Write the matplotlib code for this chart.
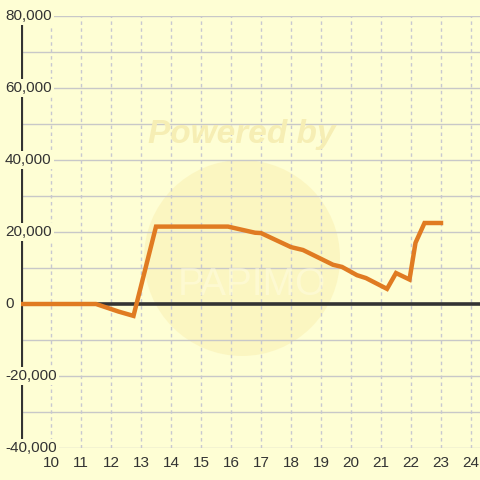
import matplotlib
matplotlib.use("Agg")
import matplotlib.pyplot as plt
from matplotlib.patches import Circle
from matplotlib import transforms

plt.rcParams['font.family'] = ['Liberation Sans', 'DejaVu Sans']
plt.rcParams['lines.scale_dashes'] = False

# Data
x_vals = [9, 11.5, 12.25, 12.75, 13.5, 15.9, 16.8, 17.0, 18.0, 18.4, 19.4, 19.7,
          20.2, 20.5, 21.2, 21.5, 21.95, 22.15, 22.45, 23.0]
y_vals = [0, 0, -2100, -3300, 21500, 21500, 19800, 19700, 15800, 15000, 10900, 10300,
          8000, 7200, 4200, 8600, 6800, 17000, 22500, 22500]
x_ticks = list(range(10, 25))
y_ticks = [-40000, -20000, 0, 20000, 40000, 60000, 80000]
y_grid = list(range(-40000, 80001, 10000))

BG = '#FEFED4'
TXT = '#333333'

fig = plt.figure(figsize=(4.8, 4.8), dpi=100)
fig.patch.set_facecolor(BG)
W = H = 480.0
ax = fig.add_axes([21 / W, (H - 448) / H, (480 - 21) / W, (448 - 16) / H])
ax.set_facecolor(BG)
ax.set_xlim(9, 9 + (480 - 21) / 30.0)
ax.set_ylim(-40000, 80000)
for s in ax.spines.values():
    s.set_visible(False)
ax.set_xticks([])
ax.set_yticks([])

# Watermark
wm = Circle((242, H - 258), 98, transform=None, facecolor='#FBF3BA', edgecolor='none',
            alpha=0.7, zorder=0.3)
ax.add_patch(wm)
fig.text(242 / W, 1 - 135 / H, 'Powered by', ha='center', va='center', fontsize=24,
         fontweight='bold', fontstyle='italic', color='#F6EEB4', zorder=0.2)
fig.text(252 / W, 1 - 285 / H, 'PAPIMO', ha='center', va='center', fontsize=28,
         color='#FFFDE2', alpha=0.5, zorder=0.2)

# Gridlines
for g in y_grid:
    if g == 0:
        continue
    ax.axhline(g, color='#C8C8C8', lw=1.0, zorder=1)
for xt in x_ticks:
    ax.axvline(xt, color='#C8C8D0', lw=1.0, dashes=(2.5, 2.5), zorder=1)

# Zero line and left axis
ax.axhline(0, color='#333333', lw=2.6, zorder=2)
ax.axvline(9, color='#333333', lw=3.0, zorder=2)

# Data line
ax.plot(x_vals, y_vals, color='#E07B22', lw=3.2, solid_joinstyle='miter', zorder=4)

# Y labels (inside, covering axis line)
ytr = transforms.blended_transform_factory(fig.transFigure, ax.transData)
for yt in y_ticks:
    t = fig.text(5 / W, yt, f'{yt:,}', transform=ytr, ha='left', va='center',
                 fontsize=11, color=TXT, zorder=3,
                 bbox=dict(facecolor=BG, edgecolor='none', pad=1.5))

# X labels
xtr = transforms.blended_transform_factory(ax.transData, fig.transFigure)
for xt in x_ticks:
    fig.text(xt, 1 - 463 / H, str(xt), transform=xtr, ha='center', va='center',
             fontsize=11, color=TXT)

fig.savefig('out.png', dpi=100, facecolor=BG)
